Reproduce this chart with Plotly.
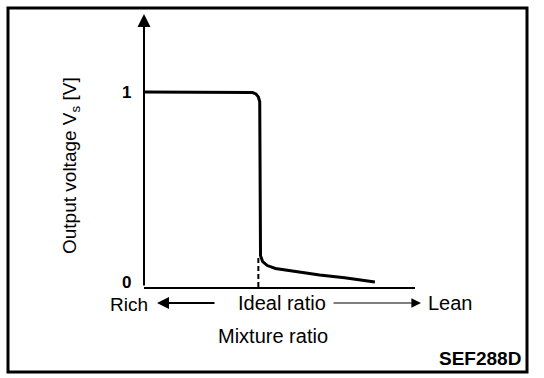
import plotly.graph_objects as go

# Curve data (mixture ratio in arbitrary units, output voltage in V)
mixture = [0.0, 3.8, 4.0, 4.13, 4.22, 4.27, 4.28, 4.28, 4.30, 4.38, 4.55, 4.85, 5.3, 5.74, 6.48, 7.4, 8.52]
voltage = [1.0, 1.0, 0.997, 0.99, 0.975, 0.95, 0.70, 0.19, 0.16, 0.13, 0.11, 0.095, 0.085, 0.075, 0.062, 0.047, 0.026]
ideal_x = [4.22, 4.22]
ideal_y = [0.0, 0.16]
ytick_vals = [0, 1]
ytick_text = ["0", "1"]

W, H = 544, 378
L, R, T, B = 144, 129, 14, 91
PW, PH = W - L - R, H - T - B
XMAX, YMAX = 10, 1.4

def px(x):
    return (x - L) / PW

def py(y):
    return (H - B - y) / PH

def dx(x):
    return (x - L) / PW * XMAX

FONT = "Liberation Sans, Arial, sans-serif"

fig = go.Figure()
fig.add_trace(go.Scatter(x=mixture, y=voltage, mode="lines",
                         line=dict(color="black", width=3), showlegend=False, hoverinfo="skip"))
fig.add_trace(go.Scatter(x=ideal_x, y=ideal_y, mode="lines",
                         line=dict(color="black", width=2, dash="5px,3px"), showlegend=False, hoverinfo="skip"))

fig.update_layout(
    width=W, height=H,
    margin=dict(l=L, r=R, t=T, b=B, pad=0),
    paper_bgcolor="white", plot_bgcolor="white",
    font=dict(family=FONT, color="black", size=20),
    xaxis=dict(range=[0, XMAX], showgrid=False, zeroline=False, showticklabels=False,
               ticks="", showline=True, linecolor="black", linewidth=1.5),
    yaxis=dict(range=[0, YMAX], showgrid=False, zeroline=False, showticklabels=False,
               ticks="", showline=False),
)

annots = []
# y tick labels (bold, placed beside the axis)
tick_y_px = {0: 282, 1: 92}
for v, t in zip(ytick_vals, ytick_text):
    annots.append(dict(x=px(132), y=py(tick_y_px[v]), xref="paper", yref="paper", text="<b>" + t + "</b>",
                       showarrow=False, font=dict(size=17), xanchor="right", yanchor="middle", borderpad=0))
# y axis with arrow
annots.append(dict(x=0, y=YMAX, xref="x", yref="y", ax=0, ay=0, axref="x", ayref="y",
                   showarrow=True, arrowhead=2, arrowsize=1.3, arrowwidth=2, arrowcolor="black", text=""))
# y title
annots.append(dict(x=px(71), y=py(166), xref="paper", yref="paper", text="Output voltage V<sub>s</sub> [V]",
                   textangle=-90, showarrow=False, font=dict(size=19), xanchor="center", yanchor="middle"))
# bottom labels
annots.append(dict(x=px(129), y=py(304), xref="paper", yref="paper", text="Rich", showarrow=False,
                   font=dict(size=19), xanchor="center", yanchor="middle", borderpad=0))
annots.append(dict(x=px(282), y=py(303), xref="paper", yref="paper", text="Ideal ratio", showarrow=False,
                   font=dict(size=20), xanchor="center", yanchor="middle"))
annots.append(dict(x=px(450), y=py(303), xref="paper", yref="paper", text="Lean", showarrow=False,
                   font=dict(size=20), xanchor="center", yanchor="middle"))
annots.append(dict(x=px(273), y=py(336), xref="paper", yref="paper", text="Mixture ratio", showarrow=False,
                   font=dict(size=20), xanchor="center", yanchor="middle"))
annots.append(dict(x=px(523), y=py(358), xref="paper", yref="paper", text="<b>SEF288D</b>", showarrow=False,
                   font=dict(size=19), xanchor="right", yanchor="middle"))
# direction arrows
annots.append(dict(x=dx(157), y=py(303), xref="x", yref="paper", ax=dx(216), ay=0, axref="x", ayref="pixel",
                   showarrow=True, arrowhead=2, arrowsize=1.2, arrowwidth=2, arrowcolor="black", text=""))
annots.append(dict(x=dx(421), y=py(303), xref="x", yref="paper", ax=dx(332), ay=0, axref="x", ayref="pixel",
                   showarrow=True, arrowhead=2, arrowsize=1.6, arrowwidth=1.2, arrowcolor="black", text=""))
fig.update_layout(annotations=annots)

fig.add_shape(type="rect", xref="paper", yref="paper",
              x0=px(8), x1=px(527), y0=py(372), y1=py(8),
              line=dict(color="black", width=3), fillcolor="rgba(0,0,0,0)")

fig.write_html("out.html", config={"displayModeBar": False},
               post_script="document.body.style.margin='0';")
